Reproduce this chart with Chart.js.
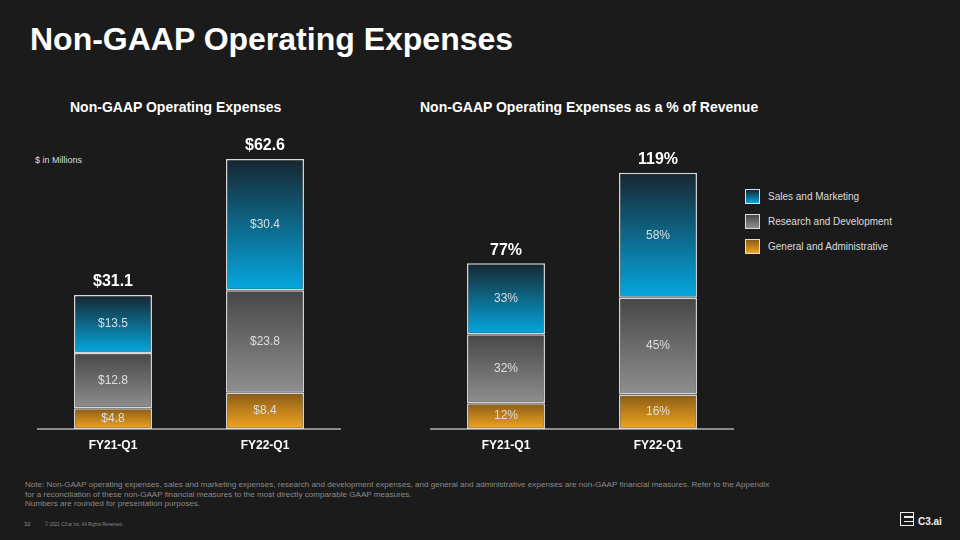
<!DOCTYPE html>
<html>
<head>
<meta charset="utf-8">
<script src="https://cdn.jsdelivr.net/npm/chart.js@4"></script>
<style>
  html, body { margin: 0; padding: 0; }
  body {
    width: 960px; height: 540px; background: #1b1b1b; position: relative; overflow: hidden;
    font-family: "Liberation Sans", Arial, sans-serif; color: #fff;
  }
  .abs { position: absolute; white-space: nowrap; }
  .title { left: 30px; top: 21px; font-size: 32px; font-weight: bold; }
  .sub { top: 99px; font-size: 14px; font-weight: bold; }
  .units { left: 35px; top: 155px; font-size: 9px; color: #ddd; }
  .chartbox { position: absolute; }
  .legend { left: 745px; top: 189px; font-size: 10px; color: #ddd; }
  .legend div { height: 15px; margin-bottom: 10px; display: flex; align-items: center; }
  .legend span.sw { width: 13px; height: 13px; border: 1px solid #ddd; margin-right: 8px; display: inline-block; }
  .note { left: 25px; top: 480px; font-size: 8.1px; line-height: 9.6px; color: #8a8a8a; }
  .pg { left: 24px; top: 521px; font-size: 6px; color: #888; }
  .copy { left: 45px; top: 522px; font-size: 4.6px; color: #888; }
  .logo { left: 900px; top: 512px; }
  .logo .ic { position: absolute; left: 0; top: 0; width: 12px; height: 12px; border: 1.5px solid #eee; }
  .logo .ic i { position: absolute; left: 3px; height: 1.5px; width: 9px; background: #eee; }
  .logo .tx { position: absolute; left: 18px; top: 4px; font-size: 10px; font-weight: bold; color: #eee; }
</style>
</head>
<body>
<div class="abs title">Non-GAAP Operating Expenses</div>
<div class="abs sub" style="left:70px">Non-GAAP Operating Expenses</div>
<div class="abs sub" style="left:420px">Non-GAAP Operating Expenses as a % of Revenue</div>
<div class="abs units">$ in Millions</div>

<div class="chartbox" style="left:37px;top:100px;width:304px;height:360px"><canvas id="left"></canvas></div>
<div class="chartbox" style="left:430px;top:100px;width:304px;height:360px"><canvas id="right"></canvas></div>

<div class="abs legend" id="legend"></div>

<div class="abs note">Note: Non-GAAP operating expenses, sales and marketing expenses, research and development expenses, and general and administrative expenses are non-GAAP financial measures. Refer to the Appendix<br>for a reconciliation of these non-GAAP financial measures to the most directly comparable GAAP measures.<br>Numbers are rounded for presentation purposes.</div>
<div class="abs pg">32</div>
<div class="abs copy">© 2021 C3.ai Inc. All Rights Reserved.</div>
<div class="abs logo">
  <div class="ic"><i style="top:3px"></i><i style="top:7.5px"></i></div>
  <div class="tx">C3.ai</div>
</div>

<script>
// data
const categories = ['FY21-Q1', 'FY22-Q1'];
const seriesNames = ['General and Administrative', 'Research and Development', 'Sales and Marketing'];

const gaDollars = [4.8, 8.4];
const rdDollars = [12.8, 23.8];
const smDollars = [13.5, 30.4];
const totalDollars = [31.1, 62.6];

const gaPct = [12, 16];
const rdPct = [32, 45];
const smPct = [33, 58];
const totalPct = [77, 119];

// gradient stops per series: top colour, bottom colour
const fills = [
  ['#8a5c17', '#f2a51f'],
  ['#474747', '#8f8f8f'],
  ['#172630', '#04a8e0']
];

function grad(colors) {
  return (c) => {
    const chart = c.chart;
    if (!chart.chartArea || c.dataIndex === undefined) return colors[1];
    const y = chart.scales.y;
    let base = 0;
    for (let i = 0; i < c.datasetIndex; i++) base += chart.data.datasets[i].data[c.dataIndex];
    const top = base + chart.data.datasets[c.datasetIndex].data[c.dataIndex];
    const g = chart.ctx.createLinearGradient(0, y.getPixelForValue(top), 0, y.getPixelForValue(base));
    g.addColorStop(0, colors[0]);
    g.addColorStop(1, colors[1]);
    return g;
  };
}

const labelsPlugin = {
  id: 'barLabels',
  afterDatasetsDraw(chart, args, opts) {
    const ctx = chart.ctx;
    ctx.save();
    ctx.textAlign = 'center';
    ctx.textBaseline = 'middle';
    ctx.font = '12px "Liberation Sans", Arial, sans-serif';
    ctx.fillStyle = '#dedede';
    chart.data.datasets.forEach((ds, di) => {
      chart.getDatasetMeta(di).data.forEach((el, i) => {
        ctx.fillText(opts.fmt(ds.data[i]), el.x, (el.y + el.base) / 2);
      });
    });
    const last = chart.getDatasetMeta(chart.data.datasets.length - 1).data;
    ctx.font = 'bold 16px "Liberation Sans", Arial, sans-serif';
    ctx.fillStyle = '#ffffff';
    last.forEach((el, i) => {
      ctx.fillText(opts.fmt(opts.totals[i]), el.x, el.y - 13);
    });
    ctx.restore();
  }
};

function makeChart(id, series, totals, yMax, fmt) {
  new Chart(document.getElementById(id), {
    type: 'bar',
    data: {
      labels: categories,
      datasets: series.map((d, i) => ({
        label: seriesNames[i],
        data: d,
        backgroundColor: grad(fills[i]),
        borderColor: '#d6d6d6',
        borderWidth: 1.5,
        borderSkipped: false
      }))
    },
    options: {
      responsive: true,
      maintainAspectRatio: false,
      animation: false,
      layout: { padding: 0 },
      categoryPercentage: 1,
      barPercentage: 0.513,
      plugins: {
        legend: { display: false },
        tooltip: { enabled: false },
        barLabels: { totals: totals, fmt: fmt }
      },
      scales: {
        x: {
          stacked: true,
          grid: { display: false },
          border: { color: '#8a8a8a', width: 2 },
          ticks: {
            color: '#ffffff',
            padding: 1,
            font: { family: '"Liberation Sans", Arial, sans-serif', size: 12, weight: 'bold' }
          },
          afterFit: (s) => { s.height = 31; }
        },
        y: {
          stacked: true,
          display: false,
          min: 0,
          max: yMax
        }
      }
    },
    plugins: [labelsPlugin]
  });
}

makeChart('left', [gaDollars, rdDollars, smDollars], totalDollars, 76.3, v => '$' + v.toFixed(1));
makeChart('right', [gaPct, rdPct, smPct], totalPct, 152.8, v => v + '%');

// legend, top series first
const legend = document.getElementById('legend');
[2, 1, 0].forEach(i => {
  const row = document.createElement('div');
  row.innerHTML = '<span class="sw" style="background:linear-gradient(' + fills[i][0] + ',' + fills[i][1] + ')"></span>' + seriesNames[i];
  legend.appendChild(row);
});
</script>
</body>
</html>
